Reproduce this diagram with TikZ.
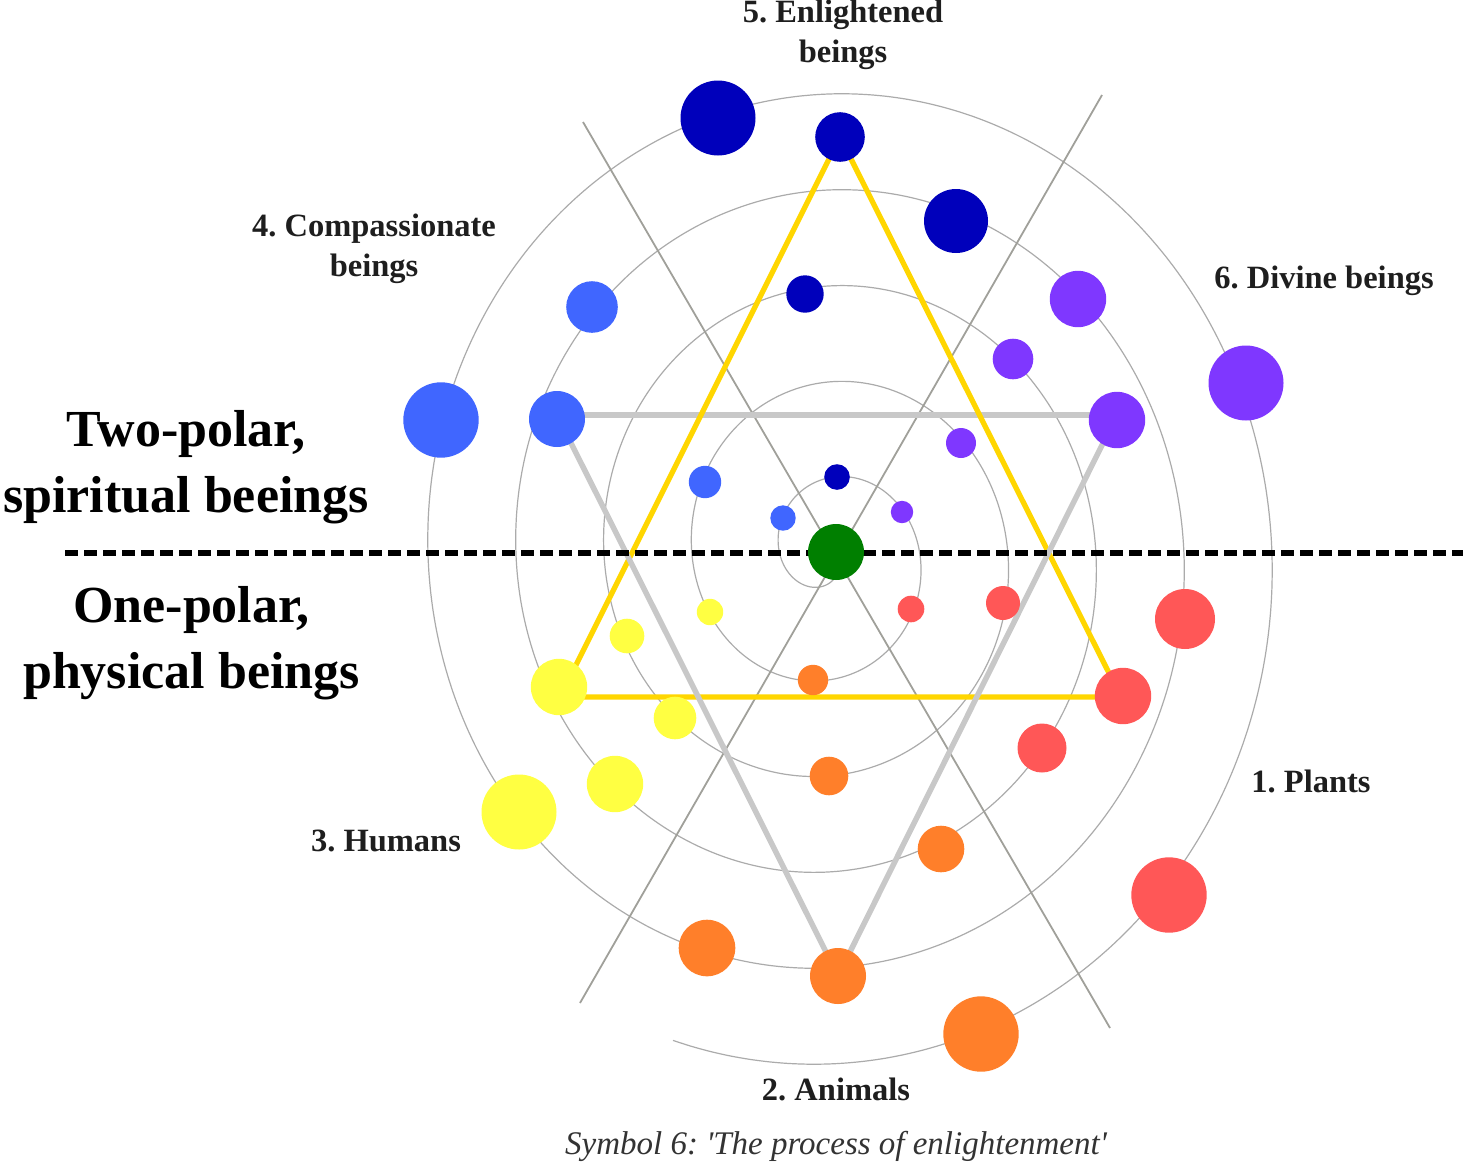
\documentclass[tikz,border=0pt]{standalone}
\usepackage{fontspec}
\setmainfont{Liberation Serif}
\frenchspacing
\definecolor{cred}{HTML}{FF5757}
\definecolor{corange}{HTML}{FF7F2A}
\definecolor{cyellow}{HTML}{FFFF42}
\definecolor{cblue}{HTML}{4066FF}
\definecolor{cdblue}{HTML}{0000BB}
\definecolor{cpurple}{HTML}{7F37FF}
\definecolor{cgreen}{HTML}{007F00}
\definecolor{spirc}{HTML}{ABABAB}
\definecolor{radc}{HTML}{A0A09A}
\definecolor{tric}{HTML}{C8C8C8}
\definecolor{goldc}{HTML}{FFD600}
\definecolor{labc}{HTML}{1E1E1E}
\definecolor{capc}{HTML}{333333}
\begin{document}
\begin{tikzpicture}[x=1pt,y=-1pt,
  blob/.style 2 args={circle,fill=#1,draw=none,inner sep=0pt,minimum size=#2},
  spiralline/.style={draw=spirc,line width=1.2pt},
  radline/.style={draw=radc,line width=1.8pt},
  greytri/.style={draw=tric,line width=5.5pt},
  goldtri/.style={draw=goldc,line width=5.3pt,line join=miter},
  dashline/.style={draw=black,line width=5.5pt,dash pattern=on 12.5pt off 6.5pt},
  lab/.style={font=\fontsize{32.5}{40}\selectfont\bfseries,text=labc,inner sep=0pt,align=center},
  biglab/.style={font=\fontsize{52}{66}\selectfont\bfseries,text=black,inner sep=0pt,align=center},
  caplab/.style={font=\fontsize{33}{40}\selectfont\itshape,text=capc,inner sep=0pt}]
\useasboundingbox (0,0) rectangle (1463,1164);

% spiral
\draw[spiralline] plot[domain=0:5.305,samples=800,smooth,variable=\t]
  ({828+(4+88*\t)*cos(360*\t)},{555+(5+96*\t)*sin(360*\t)});

% radial lines
\coordinate (A1) at (583,122);
\coordinate (A2) at (1110,1028);
\coordinate (B1) at (1102,95);
\coordinate (B2) at (580,1003);
\draw[radline] (A1) -- (A2);
\draw[radline] (B1) -- (B2);

% triangles
\coordinate (G1) at (557,415);
\coordinate (G2) at (1117,415);
\coordinate (G3) at (838,976);
\coordinate (Y1) at (840,137);
\coordinate (Y2) at (1121,697);
\coordinate (Y3) at (560,697);
\draw[greytri] (G1) -- (G2);
\draw[goldtri] (Y1) -- (Y2) -- (Y3) -- cycle;
\draw[greytri,line join=round] (G2) -- (G3) -- (G1);

% dashed divider
\coordinate (DL) at (65,553);
\coordinate (DR) at (1463,553);
\draw[dashline] (DL) -- (DR);

% dots: red
\node[blob={cred}{26.6pt}] (r1) at (911,609) {};
\node[blob={cred}{34pt}] (r2) at (1003,603) {};
\node[blob={cred}{49pt}] (r3) at (1042,748) {};
\node[blob={cred}{56.4pt}] (r4) at (1123,696) {};
\node[blob={cred}{60pt}] (r5) at (1185,619) {};
\node[blob={cred}{75.4pt}] (r6) at (1169,895) {};
% orange
\node[blob={corange}{30.4pt}] (o1) at (813,680) {};
\node[blob={corange}{38.6pt}] (o2) at (829,776) {};
\node[blob={corange}{46.6pt}] (o3) at (941,849) {};
\node[blob={corange}{56.6pt}] (o4) at (707,948) {};
\node[blob={corange}{56pt}] (o5) at (838,976) {};
\node[blob={corange}{75.4pt}] (o6) at (981,1034) {};
% yellow
\node[blob={cyellow}{26.4pt}] (y1) at (710,612) {};
\node[blob={cyellow}{34.6pt}] (y2) at (627,636) {};
\node[blob={cyellow}{42.6pt}] (y3) at (675,718) {};
\node[blob={cyellow}{56.4pt}] (y4) at (559,687) {};
\node[blob={cyellow}{56.4pt}] (y5) at (615,784) {};
\node[blob={cyellow}{75pt}] (y6) at (519,812) {};
% blue
\node[blob={cblue}{25.4pt}] (b1) at (783,518) {};
\node[blob={cblue}{32.4pt}] (b2) at (705,482) {};
\node[blob={cblue}{51.6pt}] (b3) at (592,307) {};
\node[blob={cblue}{56pt}] (b4) at (557,419) {};
\node[blob={cblue}{75.4pt}] (b5) at (441,420) {};
% dark blue
\node[blob={cdblue}{25.6pt}] (d1) at (837,477) {};
\node[blob={cdblue}{37.4pt}] (d2) at (805,294) {};
\node[blob={cdblue}{64pt}] (d3) at (956,221) {};
\node[blob={cdblue}{49.6pt}] (d4) at (840,137) {};
\node[blob={cdblue}{75pt}] (d5) at (718,118) {};
% purple
\node[blob={cpurple}{22.4pt}] (p1) at (902,512) {};
\node[blob={cpurple}{30pt}] (p2) at (961,443) {};
\node[blob={cpurple}{40.6pt}] (p3) at (1013,359) {};
\node[blob={cpurple}{56.4pt}] (p4) at (1078,299) {};
\node[blob={cpurple}{56.4pt}] (p5) at (1117,420) {};
\node[blob={cpurple}{75pt}] (p6) at (1246,383) {};
% green centre
\node[blob={cgreen}{56pt}] (g) at (836,552) {};

% labels (base = baseline of last line)
\node[lab,anchor=base] (l5) at (843,63) {5. Enlightened\\beings};
\node[lab,anchor=base] (l4) at (374,276) {4. Compassionate\\beings};
\node[lab,anchor=base] (l6) at (1324,288) {6. Divine beings};
\node[lab,anchor=base] (l1) at (1311,792) {1. Plants};
\node[lab,anchor=base] (l2) at (836,1100) {2. Animals};
\node[lab,anchor=base] (l3) at (386,851) {3. Humans};
\node[biglab,anchor=base] (two) at (186,512) {Two-polar,\\spiritual beeings};
\node[biglab,anchor=base] (one) at (191.5,688) {One-polar,\\physical beings};
\node[caplab,anchor=base] (cap) at (836,1154) {Symbol 6: \textquotesingle The process of enlightenment\textquotesingle};
\end{tikzpicture}
\end{document}
